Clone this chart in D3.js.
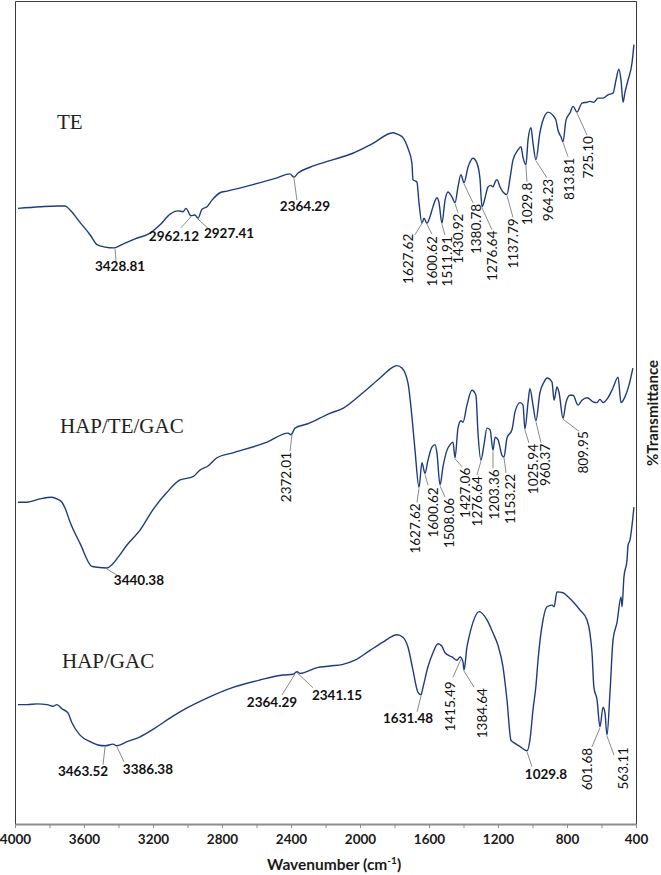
<!DOCTYPE html>
<html>
<head>
<meta charset="utf-8">
<script src="https://cdn.jsdelivr.net/npm/d3@7"></script>
<style>
  body { margin: 0; background: #fff; }
  svg { display: block; }
  .x.axis path { stroke: #8c8c8c; stroke-width: 2; }
  .x.axis line { stroke: #8c8c8c; }
  .x.axis text { font-family: Lato, sans-serif; font-weight: bold; font-size: 13.5px; fill: #1a1a1a; }
  .frame { fill: none; stroke: #3a3a3a; stroke-width: 1; }
  .spectrum { fill: none; stroke: #1f3b7e; stroke-width: 1.4; }
  .leader { stroke: #8a8a8a; stroke-width: 1; }
  .peak { font-family: Lato, sans-serif; font-size: 13.5px; fill: #111; }
  .peak.flat { font-weight: bold; }
  .sample { font-family: "Liberation Serif", serif; font-size: 21px; fill: #222; }
  .title { font-family: Lato, sans-serif; font-weight: bold; font-size: 15.5px; fill: #1a1a1a; }
  .title.side { font-size: 15px; }
</style>
</head>
<body>
<div class="chart-container"></div>
<script>
// spectra: [wavenumber cm-1, %T with stacking offset]
var teSpectrum = [
  [3983, 74.8], [3855, 75.0], [3757, 75.1], [3710, 75.1], [3681, 74.6], [3623, 73.1],
  [3565, 71.6], [3525, 70.4], [3478, 70.1], [3426, 70.0], [3380, 70.4], [3304, 71.1],
  [3217, 71.8], [3159, 72.8], [3101, 74.1], [3055, 74.5], [3026, 74.4], [3009, 74.8],
  [2980, 73.9], [2957, 74.0], [2939, 73.6], [2916, 74.7], [2887, 75.0], [2858, 75.8],
  [2812, 76.7], [2771, 76.9], [2638, 77.6], [2481, 78.5], [2406, 79.0], [2383, 78.6],
  [2359, 79.1], [2290, 79.8], [2174, 80.6], [2041, 81.5], [1925, 82.7], [1809, 84.0],
  [1780, 83.8], [1751, 83.4], [1722, 82.1], [1699, 80.3], [1693, 78.3], [1670, 78.0],
  [1658, 75.5], [1641, 73.0], [1629, 73.6], [1612, 73.0], [1594, 73.8], [1577, 75.0],
  [1554, 76.1], [1542, 75.5], [1525, 73.0], [1507, 75.8], [1490, 76.8], [1467, 76.2],
  [1449, 75.5], [1432, 77.4], [1415, 78.9], [1397, 77.9], [1374, 79.8], [1345, 80.9],
  [1322, 80.3], [1304, 78.3], [1293, 75.0], [1275, 76.1], [1258, 77.4], [1241, 77.6],
  [1229, 77.4], [1217, 78.0], [1206, 78.3], [1188, 77.4], [1171, 76.8], [1148, 76.5],
  [1130, 78.5], [1113, 80.7], [1084, 81.9], [1067, 82.3], [1055, 81.0], [1038, 80.1],
  [1026, 83.1], [1009, 84.6], [997, 82.7], [980, 80.7], [957, 84.0], [928, 86.1],
  [910, 86.5], [881, 86.1], [864, 85.5], [852, 84.3], [835, 83.5], [823, 82.9],
  [806, 85.5], [783, 86.4], [765, 87.2], [742, 86.5], [713, 87.6], [684, 87.7],
  [667, 87.8], [644, 87.7], [620, 88.2], [591, 88.2], [562, 88.6], [533, 88.8],
  [516, 90.4], [499, 91.7], [487, 90.4], [475, 87.7], [464, 88.9], [446, 90.4],
  [423, 92.5], [412, 94.7]
];

var hapTeGacSpectrum = [
  [3983, 39.1], [3930, 39.1], [3855, 39.5], [3786, 39.7], [3757, 39.5], [3728, 39.1],
  [3710, 38.4], [3681, 36.7], [3623, 34.1], [3554, 31.3], [3525, 31.2], [3467, 31.1],
  [3438, 31.5], [3403, 32.4], [3351, 33.9], [3275, 35.7], [3200, 38.2], [3119, 40.3],
  [3043, 41.8], [2968, 42.2], [2928, 43.0], [2881, 43.5], [2829, 44.5], [2736, 45.1],
  [2539, 46.4], [2417, 47.5], [2400, 47.3], [2377, 48.1], [2307, 48.6], [2174, 49.9],
  [2099, 50.5], [1983, 52.4], [1884, 54.2], [1809, 55.5], [1786, 55.7], [1757, 55.4],
  [1722, 53.6], [1699, 49.5], [1681, 45.4], [1658, 40.9], [1641, 43.9], [1623, 42.6],
  [1606, 44.2], [1583, 45.8], [1565, 46.1], [1554, 45.1], [1536, 41.2], [1519, 43.4],
  [1496, 45.4], [1478, 46.1], [1461, 46.4], [1449, 44.5], [1432, 48.1], [1415, 49.0],
  [1403, 48.8], [1380, 50.9], [1351, 52.7], [1328, 52.1], [1316, 47.5], [1299, 44.2],
  [1281, 46.1], [1264, 48.1], [1246, 47.9], [1229, 45.4], [1217, 47.0], [1200, 46.7],
  [1177, 44.8], [1165, 44.6], [1148, 46.9], [1119, 47.9], [1101, 50.1], [1072, 51.2],
  [1055, 50.9], [1044, 48.0], [1026, 51.2], [1015, 52.9], [997, 50.9], [980, 49.0],
  [957, 52.4], [933, 53.7], [916, 54.2], [887, 53.7], [875, 51.5], [858, 53.1],
  [846, 52.4], [823, 49.3], [806, 51.2], [783, 52.1], [765, 52.1], [736, 50.9],
  [713, 51.5], [684, 51.8], [649, 51.3], [626, 51.2], [609, 51.6], [591, 51.2],
  [562, 51.8], [533, 53.0], [504, 54.3], [487, 51.2], [464, 51.9], [441, 53.3],
  [418, 55.4]
];

var hapGacSpectrum = [
  [3983, 14.5], [3930, 14.5], [3872, 14.6], [3814, 14.5], [3780, 14.3], [3757, 14.5],
  [3728, 14.0], [3693, 13.5], [3670, 12.3], [3623, 10.8], [3565, 10.0], [3519, 9.6],
  [3478, 9.5], [3432, 9.7], [3409, 9.5], [3351, 10.0], [3275, 10.6], [3200, 11.5],
  [3084, 13.1], [3003, 14.1], [2887, 15.3], [2736, 16.6], [2580, 17.5], [2446, 18.1],
  [2388, 18.2], [2365, 18.5], [2348, 18.3], [2249, 19.0], [2174, 19.2], [2099, 19.4],
  [2029, 19.9], [1942, 21.1], [1867, 22.1], [1786, 23.0], [1751, 22.7], [1722, 21.5],
  [1693, 18.7], [1664, 16.0], [1646, 15.7], [1635, 16.6], [1606, 19.1], [1577, 20.8],
  [1548, 21.9], [1525, 21.6], [1507, 20.8], [1467, 20.3], [1438, 19.9], [1420, 20.3],
  [1403, 19.7], [1397, 18.7], [1380, 21.5], [1368, 22.7], [1345, 24.5], [1310, 25.8],
  [1264, 24.8], [1229, 23.2], [1200, 21.7], [1171, 19.1], [1148, 15.1], [1125, 10.2],
  [1101, 9.8], [1072, 9.4], [1032, 8.9], [1015, 10.2], [997, 13.9], [980, 16.8],
  [968, 19.9], [939, 24.8], [916, 26.4], [887, 26.6], [875, 26.4], [858, 28.2],
  [823, 28.1], [794, 27.6], [765, 27.0], [725, 26.0], [684, 24.8], [667, 23.2],
  [655, 20.8], [644, 16.6], [626, 15.1], [609, 11.8], [591, 14.2], [580, 13.5],
  [568, 10.8], [551, 15.9], [533, 22.4], [510, 24.5], [487, 27.6], [481, 26.4],
  [470, 30.0], [452, 32.1], [446, 33.9], [435, 34.5], [412, 38.5]
];

var sampleNames = ['TE', 'HAP/TE/GAC', 'HAP/GAC'];

// peak labels: [text, wavenumber where the leader line leaves the curve]
var tePeaks = [
  ['3428.81', 3420], ['2962.12', 2980], ['2927.41', 2945], ['2364.29', 2383],
  ['1627.62', 1635], ['1600.62', 1612], ['1511.91', 1525], ['1430.92', 1449],
  ['1380.78', 1397], ['1276.64', 1293], ['1137.79', 1148], ['1029.8', 1038],
  ['964.23', 980], ['813.81', 823], ['725.10', 742]
];
var hapTeGacPeaks = [
  ['3440.38', 3467], ['2372.01', 2394], ['1627.62', 1658], ['1600.62', 1623],
  ['1508.06', 1536], ['1427.06', 1449], ['1276.64', 1299], ['1203.36', 1229],
  ['1153.22', 1165], ['1025.94', 1044], ['960.37', 980], ['809.95', 823]
];
var hapGacPeaks = [
  ['3463.52', 3478], ['3386.38', 3409], ['2364.29', 2377], ['2341.15', 2365],
  ['1631.48', 1646], ['1415.49', 1415], ['1384.64', 1397], ['1029.8', 1032],
  ['601.68', 609], ['563.11', 568]
];

var xTickLabels = [4000, 3600, 3200, 2800, 2400, 2000, 1600, 1200, 800, 400];
var xMinorTicks = [3800, 3400, 3000, 2600, 2200, 1800, 1400, 1000, 600];

// label layout, pixel offsets from the curve point:
// [leader dx, leader dy, text dx, text dy, rotated]
var teLayout = [
  [1, 14, 5, 19, 0], [-10, 12, -17, 20, 0], [12, 12, 32, 16, 0], [3, 23, 11, 29, 0],
  [-8, 14, -15, 13, 1], [5, 11, 5, 13, 1], [3, 12, 5, 13, 1], [3, 10, 3, 11, 1],
  [9, 20, 12, 21, 1], [10, 23, 10, 24, 1], [6, 23, 6, 24, 1], [1, 17, 1, 18, 1],
  [11, 18, 12, 19, 1], [5, 15, 6, 16, 1], [10, 23, 11, 24, 1]
];
var hapTeGacLayout = [
  [10, 7, 32, 12, 0], [-2, 18, -6, 19, 1], [-2, 15, -4, 16, 1], [3, 12, 8, 14, 1],
  [5, 12, 9, 13, 1], [7, 9, 10, 10, 1], [-4, 15, -4, 16, 1], [0, 18, 1, 19, 1],
  [2, 16, 6, 17, 1], [4, 14, 8, 15, 1], [5, 22, 9, 23, 1], [16, 13, 20, 13, 1]
];
var hapGacLayout = [
  [-2, 19, -22, 25, 0], [7, 16, 31, 23, 0], [-13, 22, -23, 29, 0], [16, 16, 40, 24, 0],
  [-4, 17, -13, 23, 0], [-8, 19, -11, 23, 1], [10, 17, 18, 18, 1], [5, 16, 19, 24, 0],
  [-8, 20, -13, 21, 1], [7, 20, 16, 12, 1]
];
var sampleLayout = [[57, 129], [60, 433], [62, 668]];

var margin = {top: 1, right: 25, bottom: 51, left: 15},
  width = 661 - margin.left - margin.right,
  height = 875 - margin.top - margin.bottom;

var x = d3.scaleLinear().domain([4000, 400]).range([0, width]);
var y = d3.scaleLinear().domain([0, 100]).range([height, 0]);

var svg = d3.select('.chart-container').append('svg')
    .attr('width', 661)
    .attr('height', 875);

var g = svg.append('g')
    .attr('transform', 'translate(' + margin.left + ',' + margin.top + ')');

// frame: left, top, right
g.append('path')
    .attr('class', 'frame')
    .attr('d', 'M0.5,' + height + 'V0.5H' + (width + 0.5) + 'V' + height);

// minor ticks
g.append('g')
    .attr('class', 'x axis')
    .attr('transform', 'translate(0,' + height + ')')
    .call(d3.axisBottom(x).tickValues(xMinorTicks).tickSize(4).tickFormat(''))
    .select('.domain').remove();

g.append('g')
    .attr('class', 'x axis')
    .attr('transform', 'translate(0,' + height + ')')
    .call(d3.axisBottom(x).tickValues(xTickLabels).tickSize(4).tickSizeOuter(0)
      .tickPadding(6).tickFormat(d3.format('d')));

g.append('text')
    .attr('class', 'title')
    .attr('x', x(2150))
    .attr('y', height + 46)
    .attr('text-anchor', 'middle')
    .text('Wavenumber (cm')
  .append('tspan')
    .attr('baseline-shift', 'super')
    .attr('font-size', '10px')
    .text('-1')
  .select(function () { return this.parentNode; })
  .append('tspan')
    .text(')');

svg.append('text')
    .attr('class', 'title side')
    .attr('transform', 'translate(653,413) rotate(-90)')
    .attr('text-anchor', 'middle')
    .attr('dy', '0.35em')
    .text('%Transmittance');

var line = d3.line()
    .x(function (d) { return x(d[0]); })
    .y(function (d) { return y(d[1]); })
    .curve(d3.curveMonotoneX);

function valueAt(series, w) {
  for (var i = 0; i < series.length - 1; i++) {
    var a = series[i], b = series[i + 1];
    if (w <= a[0] && w >= b[0]) {
      var t = (a[0] - w) / (a[0] - b[0]);
      return a[1] + t * (b[1] - a[1]);
    }
  }
  return series[series.length - 1][1];
}

function drawSpectrum(series, peaks, layout, name, nameAt) {
  g.append('path')
      .datum(series)
      .attr('class', 'spectrum')
      .attr('d', line);

  peaks.forEach(function (p, i) {
    var L = layout[i];
    var px = x(p[1]), py = y(valueAt(series, p[1]));
    g.append('line')
        .attr('class', 'leader')
        .attr('x1', px).attr('y1', py + 1)
        .attr('x2', px + L[0]).attr('y2', py + L[1]);
    var t = g.append('text')
        .attr('class', L[4] ? 'peak' : 'peak flat')
        .attr('dy', '0.35em')
        .text(p[0]);
    if (L[4]) {
      t.attr('text-anchor', 'end')
        .attr('transform', 'translate(' + (px + L[2]) + ',' + (py + L[3]) + ') rotate(-90)');
    } else {
      t.attr('text-anchor', 'middle')
        .attr('x', px + L[2])
        .attr('y', py + L[3]);
    }
  });

  svg.append('text')
      .attr('class', 'sample')
      .attr('x', nameAt[0])
      .attr('y', nameAt[1])
      .text(name);
}

drawSpectrum(teSpectrum, tePeaks, teLayout, sampleNames[0], sampleLayout[0]);
drawSpectrum(hapTeGacSpectrum, hapTeGacPeaks, hapTeGacLayout, sampleNames[1], sampleLayout[1]);
drawSpectrum(hapGacSpectrum, hapGacPeaks, hapGacLayout, sampleNames[2], sampleLayout[2]);
</script>
</body>
</html>
